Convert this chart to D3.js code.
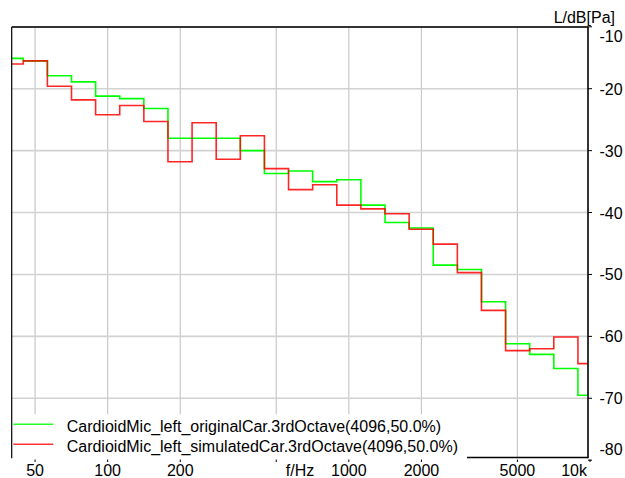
<!DOCTYPE html>
<html><head><meta charset="utf-8">
<script src="https://cdn.jsdelivr.net/npm/d3@7"></script>
<style>body{margin:0;background:#fff}svg{display:block;font-family:"Liberation Sans",Arial,sans-serif}</style>
</head><body>
<svg id="c" width="625" height="478"></svg>
<script>
const bands = [40,50,63,80,100,125,160,200,250,315,400,500,630,800,1000,1250,1600,2000,2500,3150,4000,5000,6300,8000,10000];
const original = [-15.1,-15.5,-17.9,-18.9,-21.2,-21.6,-23.2,-28.0,-28.0,-28.0,-30.0,-33.7,-33.3,-35.0,-34.7,-38.8,-41.6,-42.5,-48.5,-49.2,-54.4,-61.2,-62.9,-65.2,-69.5];
const simulated = [-16.0,-15.5,-19.6,-21.8,-24.2,-22.7,-25.3,-31.8,-25.5,-31.4,-27.6,-32.9,-36.3,-35.5,-38.8,-39.4,-40.2,-42.7,-45.1,-49.7,-55.8,-62.3,-62.0,-60.1,-64.4];
const xTicks = [50,100,200,500,1000,2000,5000,10000];
const xTickLabels = ["50","100","200","","1000","2000","5000","10k"];
const yTicks = [-10,-20,-30,-40,-50,-60,-70,-80];
const legendNames = ["CardioidMic_left_originalCar.3rdOctave(4096,50.0%)","CardioidMic_left_simulatedCar.3rdOctave(4096,50.0%)"];
const colors = ["#00ff00","#ff0000"];

const svg = d3.select("#c");
const L = 11.7, R = 588, T = 27, B = 457.5;
const x = d3.scaleLog().domain([40,10000]).range([11.7,590]);
const y = d3.scaleLinear().domain([-80,-10]).range([460.2,26.8]);

svg.append("defs").append("clipPath").attr("id","pc").append("rect")
  .attr("x",L).attr("y",T).attr("width",R-L).attr("height",B-T);

// grid
const g = svg.append("g");
g.selectAll(".vg").data(xTicks.filter(d=>d<10000)).enter().append("line")
  .attr("x1",d=>x(d)).attr("x2",d=>x(d)).attr("y1",T).attr("y2",B)
  .attr("stroke","#c8c8c8").attr("stroke-width",1.2);
g.selectAll(".hg").data(yTicks.filter(d=>d>-80&&d<-10)).enter().append("line")
  .attr("x1",L).attr("x2",R).attr("y1",d=>y(d)).attr("y2",d=>y(d))
  .attr("stroke","#d2d2d2").attr("stroke-width",1.6);

// series
function steps(vals){
  const pts=[];
  bands.forEach((f,i)=>{
    const n = Math.round(10*Math.log10(f/1000));
    const lo = 1000*Math.pow(10,(n-0.5)/10), hi = 1000*Math.pow(10,(n+0.5)/10);
    pts.push([lo,vals[i]],[hi,vals[i]]);
  });
  return pts;
}
const line = d3.line().x(d=>x(d[0])).y(d=>y(d[1]));
const pg = svg.append("g").attr("clip-path","url(#pc)");
[original,simulated].forEach((s,i)=>{
  pg.append("path").attr("d",line(steps(s))).attr("fill","none")
    .attr("stroke",colors[i]).attr("stroke-width",1.6)
    .attr("stroke-opacity", i===1?0.85:1);
});

// legend box
svg.append("rect").attr("x",L+0.5).attr("y",414.3).attr("width",467-L-0.5).attr("height",B-414.3+2).attr("fill","#fff");
legendNames.forEach((t,i)=>{
  const yy = 424.3 + i*20;
  svg.append("line").attr("x1",13.3).attr("x2",53.3).attr("y1",yy).attr("y2",yy)
    .attr("stroke",colors[i]).attr("stroke-width",1.6).attr("stroke-opacity",i===1?0.8:0.85);
  svg.append("text").attr("x",66.7).attr("y",yy+7.7).attr("font-size",16).attr("fill","#000").text(t);
});

// frame
svg.append("line").attr("x1",L).attr("x2",R).attr("y1",T).attr("y2",T).attr("stroke","#333").attr("stroke-width",2);
svg.append("line").attr("x1",L).attr("x2",L).attr("y1",T).attr("y2",458.3).attr("stroke","#000").attr("stroke-width",1.2);
svg.append("line").attr("x1",R).attr("x2",R).attr("y1",T).attr("y2",B+0.8).attr("stroke","#000").attr("stroke-width",1.6);
svg.append("line").attr("x1",467).attr("x2",R).attr("y1",B).attr("y2",B).attr("stroke","#000").attr("stroke-width",1.6);

// y axis ticks and labels
svg.selectAll(".yt").data(yTicks).enter().append("line")
  .attr("x1",R).attr("x2",R+4).attr("y1",d=>y(d)).attr("y2",d=>y(d)).attr("stroke","#000");
svg.selectAll(".yl").data(yTicks).enter().append("text")
  .attr("x",599.5).attr("y",d=>Math.min(Math.max(y(d)+6,41.7),455))
  .attr("font-size",16).attr("fill","#000").text(d=>d);
svg.append("text").attr("x",615).attr("y",23).attr("text-anchor","end").attr("font-size",16).attr("fill","#000").text("L/dB[Pa]");

// x axis ticks and labels
svg.selectAll(".xt").data(xTicks).enter().append("line")
  .attr("x1",d=>x(d)).attr("x2",d=>x(d)).attr("y1",459.5).attr("y2",462).attr("stroke","#000");
svg.selectAll(".xl").data(xTicks).enter().append("text")
  .attr("x",d=>d===10000?587:x(d)).attr("y",475.5)
  .attr("text-anchor",d=>d===10000?"end":"middle")
  .attr("font-size",16).attr("fill","#000").text((d,i)=>xTickLabels[i]);
svg.append("text").attr("x",300).attr("y",475.5).attr("text-anchor","middle").attr("font-size",16).attr("fill","#000").text("f/Hz");
</script>
</body></html>
